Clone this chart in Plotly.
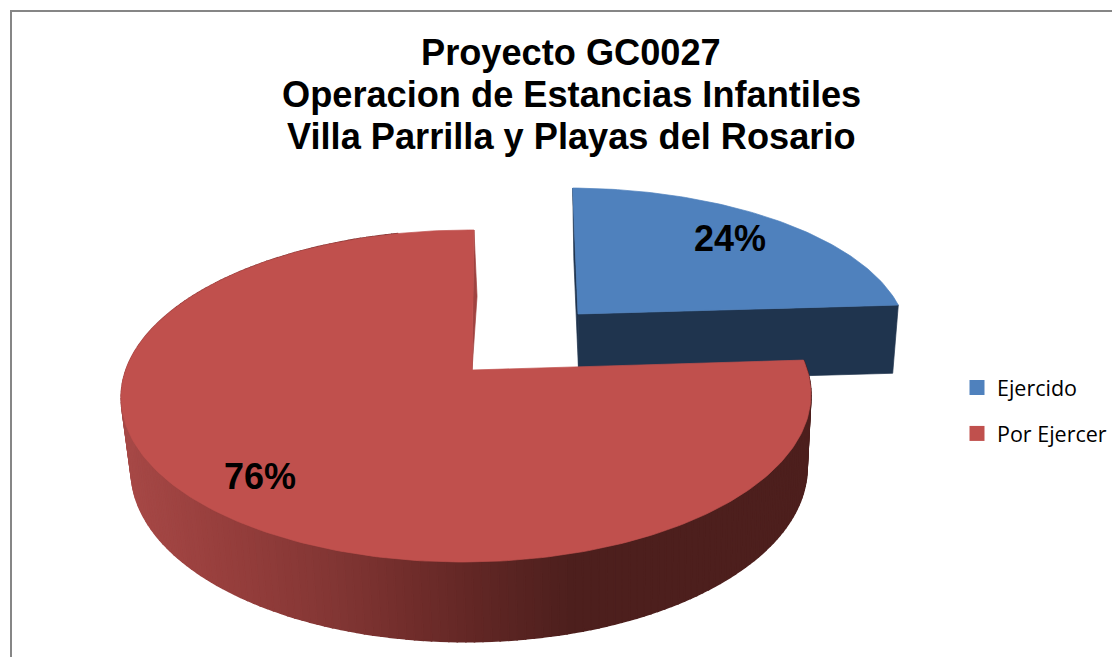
import math
import plotly.graph_objects as go

# ---- chart data ----
categories = ["Ejercido", "Por Ejercer"]
values = [24, 76]
title_lines = [
    "Proyecto GC0027",
    "Operacion de Estancias Infantiles",
    "Villa Parrilla y Playas del Rosario",
]

# ---- styles ----
TOP = ["#4F81BD", "#C0504D"]
BLUE_SIDE = "#1F344E"
RED_CUT = "#A04341"
FRAME = "#868686"
FONT = "Liberation Sans"
W, H = 1112, 657

# perspective projection of the tilted disc
P, Q, BX, AY = 0.1566, 0.016, 340.5, 161.9


def project(theta, cx, cy, sx=1.0, sy=1.0, shear=0.0):
    u, v = math.sin(theta), math.cos(theta)
    d = 1 + P * v + Q * u
    px = sx * BX * u / d
    py = -sy * AY * v / d
    return cx + px + shear * py, cy + py


def arc(a0, a1, step_deg=1.0, **kw):
    n = max(2, int(abs(a1 - a0) / math.radians(step_deg)))
    return [project(a0 + (a1 - a0) * i / n, **kw) for i in range(n + 1)]


def poly(fig, pts, color, lw=0.7):
    xs = [p[0] for p in pts] + [pts[0][0]]
    ys = [p[1] for p in pts] + [pts[0][1]]
    fig.add_trace(go.Scatter(x=xs, y=ys, mode="lines", fill="toself", fillcolor=color,
                             line=dict(color=color, width=lw), hoverinfo="skip",
                             showlegend=False))


GRAD = [(130, (166, 72, 70)), (230, (150, 62, 60)), (330, (131, 54, 52)),
        (400, (115, 46, 44)), (480, (96, 38, 36)), (570, (77, 31, 29)), (2000, (77, 31, 29))]


def side_color(x):
    if x <= GRAD[0][0]:
        c = GRAD[0][1]
    else:
        c = GRAD[-1][1]
        for (x0, c0), (x1, c1) in zip(GRAD, GRAD[1:]):
            if x0 <= x <= x1:
                t = (x - x0) / (x1 - x0)
                c = tuple(c0[i] + (c1[i] - c0[i]) * t for i in range(3))
                break
    return "rgb(%d,%d,%d)" % tuple(round(k) for k in c)


total = sum(values)
split = 2 * math.pi * values[0] / total

blue_top = dict(cx=578, cy=314, sx=0.968, sy=0.90, shear=0.042)
blue_bot = dict(cx=579, cy=382, sx=0.948, sy=0.88, shear=0.042)
red_top = dict(cx=472, cy=370, sx=1.0, sy=1.0, shear=-0.014)
red_bot = dict(cx=475, cy=442, sx=0.98, sy=1.04, shear=-0.014)

fig = go.Figure()

# blue wedge: cut faces, then top
a_t, c_t = project(0, **blue_top), (578, 314)
b_t, d_b = project(split, **blue_top), project(split, **blue_bot)
a_b, c_b = project(0, **blue_bot), (579, 382)
poly(fig, [a_t, c_t, c_b, a_b], BLUE_SIDE)
poly(fig, [c_t, b_t, d_b, c_b], BLUE_SIDE)
poly(fig, [c_t] + arc(0, split, **blue_top), TOP[0])

# red wedge: cut face, rim strips, top
r_a_t = project(0, **red_top)
r_a_b = project(0, **red_bot)
poly(fig, [r_a_t, r_a_b, (472, 370)], RED_CUT)
n_strips = 220
for i in range(n_strips):
    t0 = split + (2 * math.pi - split) * i / n_strips
    t1 = split + (2 * math.pi - split) * (i + 1) / n_strips
    p = [project(t0, **red_top), project(t1, **red_top),
         project(t1, **red_bot), project(t0, **red_bot)]
    if project((t0 + t1) / 2, **red_bot)[1] < 300:
        continue
    poly(fig, p, side_color(sum(q[0] for q in p) / 4), lw=1.6)
poly(fig, [(472, 370)] + arc(split, 2 * math.pi, **red_top), TOP[1])

# legend-only entries
for name, col in zip(categories, TOP):
    fig.add_trace(go.Scatter(x=[None], y=[None], mode="markers", name=name, legendgroup=name,
                             marker=dict(symbol="square", size=15, color=col)))

annotations = []
for line, yc in zip(title_lines, [52, 94, 136]):
    annotations.append(dict(x=571, y=yc, text="<b>%s</b>" % line, showarrow=False,
                            xanchor="center", yanchor="middle",
                            font=dict(family=FONT, size=36.2, color="#000000")))
for val, (xc, yc) in zip(values, [(730, 238), (260, 476)]):
    annotations.append(dict(x=xc, y=yc, text="<b>%d%%</b>" % round(100 * val / total), showarrow=False,
                            xanchor="center", yanchor="middle",
                            font=dict(family=FONT, size=36, color="#000000")))

fig.update_layout(
    width=W, height=H,
    margin=dict(l=0, r=0, t=0, b=0),
    paper_bgcolor="white", plot_bgcolor="white",
    xaxis=dict(range=[0, W], visible=False, fixedrange=True),
    yaxis=dict(range=[H, 0], visible=False, fixedrange=True),
    showlegend=True,
    legend=dict(x=957 / W, y=1 - 367 / H, xanchor="left", yanchor="top", traceorder="grouped",
                tracegroupgap=15, bgcolor="rgba(0,0,0,0)",
                font=dict(family="Open Sans", size=21.5, color="#000000")),
    annotations=annotations,
    shapes=[dict(type="path", path="M 11 %d L 11 11 L %d 11" % (H, W), xref="x", yref="y",
                 line=dict(color=FRAME, width=2))],
)

fig.write_html("out.html", post_script="document.body.style.margin='0';document.body.style.overflow='hidden';",
               config={"displayModeBar": False})
